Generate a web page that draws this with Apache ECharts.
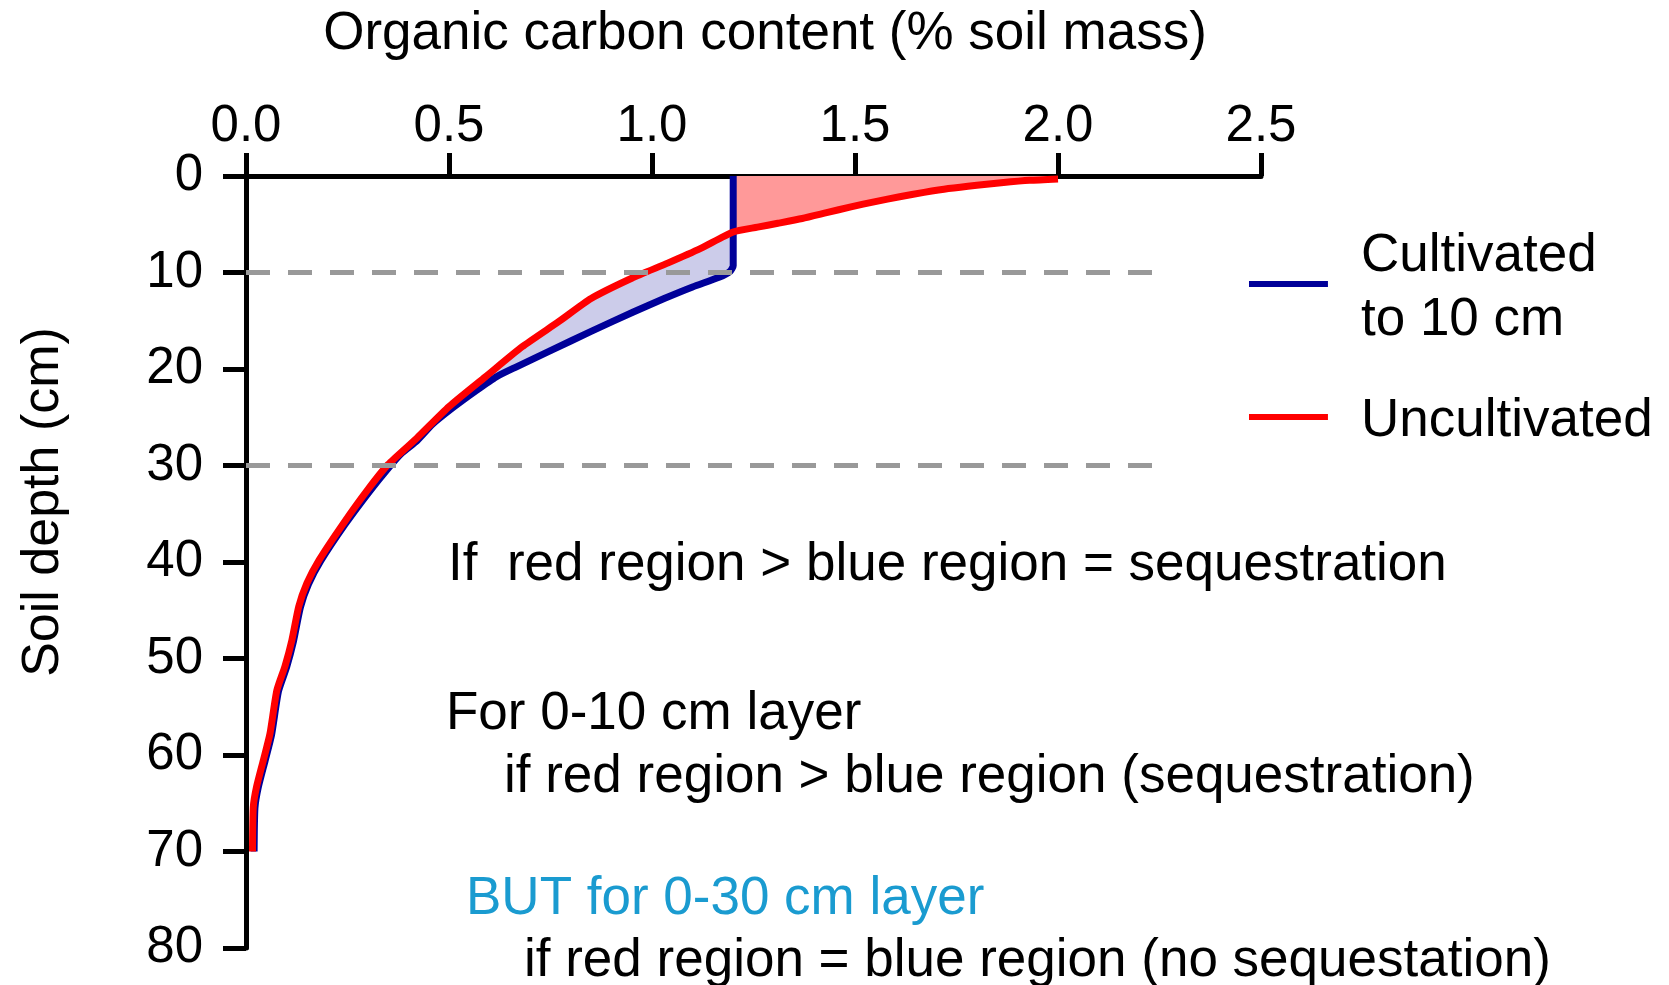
<!DOCTYPE html>
<html>
<head>
<meta charset="utf-8">
<title>Organic carbon content by soil depth</title>
<script src="https://cdn.jsdelivr.net/npm/echarts@6/dist/echarts.min.js"></script>
<style>
  html, body { margin: 0; padding: 0; background: #ffffff; }
  #chart { width: 1669px; height: 985px; }
</style>
</head>
<body>
<div id="chart"></div>
<script>
// Uncultivated soil: organic carbon (% soil mass) against depth (cm)
const uncultCarbon = [2.00, 1.93, 1.86, 1.80, 1.73, 1.67, 1.61, 1.55, 1.49, 1.43,
                      1.37, 1.31, 1.26, 1.20, 1.12, 1.04, 0.95, 0.85, 0.77, 0.68,
                      0.59, 0.50, 0.42, 0.35, 0.30, 0.24, 0.18, 0.15, 0.13, 0.113,
                      0.096, 0.076, 0.059, 0.043, 0.026, 0.018, 0.016];
const uncultDepth  = [0.3, 0.45, 0.7, 0.95, 1.3, 1.7, 2.15, 2.65, 3.2, 3.8,
                      4.4, 4.9, 5.3, 5.8, 7.5, 9.0, 10.6, 12.7, 15.1, 17.7,
                      20.8, 23.9, 27.2, 29.9, 32.5, 36.0, 39.8, 42.2, 44.6, 48.1,
                      50.8, 53.3, 57.8, 60.5, 63.3, 65.4, 70];

// Soil cultivated (mixed) to 10 cm
const cultCarbon = [1.20, 1.20, 1.192, 1.165, 1.10, 1.03, 0.954, 0.85, 0.75, 0.665,
                    0.617, 0.565, 0.51, 0.46, 0.422, 0.384, 0.354, 0.304, 0.244, 0.184,
                    0.154, 0.134, 0.117, 0.100, 0.080, 0.063, 0.047, 0.030, 0.022, 0.020];
const cultDepth  = [0, 9.3, 9.9, 10.5, 11.5, 12.7, 14.1, 16.1, 18.1, 19.8,
                    20.8, 22.3, 24.0, 25.7, 27.4, 28.7, 30.1, 32.7, 36.1, 39.9,
                    42.3, 44.7, 48.2, 50.9, 53.4, 57.9, 60.6, 63.4, 65.5, 70];

// Depth where the two profiles cross, and where they rejoin
const crossDepth = 5.8;
const mergeDepth = 27.4;

// Reference layers (cm) and how far their guide lines run (% C)
const layerDepths = [10, 30];
const guideExtent = 2.24;

// Axis ranges and ticks
const carbonMin = 0, carbonMax = 2.5, carbonStep = 0.5;
const depthMin = 0, depthMax = 80, depthStep = 10;

const seriesNames = ['Cultivated\nto 10 cm', 'Uncultivated'];

const notes = [
  { text: 'If  red region > blue region = sequestration', x: 448, y: 565, color: '#000000' },
  { text: 'For 0-10 cm layer', x: 446, y: 714, color: '#000000' },
  { text: 'if red region > blue region (sequestration)', x: 504, y: 777, color: '#000000' },
  { text: 'BUT for 0-30 cm layer', x: 466, y: 899, color: '#1a9bd0' },
  { text: 'if red region = blue region (no sequestation)', x: 524, y: 961, color: '#000000' }
];

const FONT = '"Liberation Sans", Arial, Helvetica, sans-serif';

const zip = (xs, ys) => xs.map((v, i) => [v, ys[i]]);
const uncultPts = zip(uncultCarbon, uncultDepth);
const cultPts = zip(cultCarbon, cultDepth);
const surfaceCarbon = cultCarbon[0];

// Polygon (data space) where uncultivated soil holds more carbon (near surface)
function redRegion() {
  const pts = [[surfaceCarbon, 0], [uncultCarbon[0], 0]];
  uncultPts.forEach(p => { if (p[1] <= crossDepth) pts.push(p); });
  pts.push([surfaceCarbon, crossDepth]);
  return pts;
}
// Polygon where the cultivated profile holds more carbon (below the crossing)
function blueRegion() {
  const pts = [[surfaceCarbon, crossDepth]];
  cultPts.forEach(p => { if (p[1] > crossDepth && p[1] <= mergeDepth) pts.push(p); });
  uncultPts.filter(p => p[1] >= crossDepth && p[1] <= mergeDepth).reverse().forEach(p => pts.push(p));
  return pts;
}
const regions = [
  { pts: redRegion(), color: '#ff9999' },
  { pts: blueRegion(), color: '#ccccea' }
];

// Legend swatch: a bar sitting a little above the centre of its box
const legendIcon = 'path://M0,0H79V6H0Z M0,14H0.01V14.01H0Z';

const chart = echarts.init(document.getElementById('chart'), null, { renderer: 'canvas' });

const option = {
  backgroundColor: '#ffffff',
  animation: false,
  textStyle: { fontFamily: FONT },
  grid: { left: 246, right: 408, top: 176, bottom: 37, containLabel: false },
  xAxis: {
    type: 'value',
    position: 'top',
    min: carbonMin, max: carbonMax, interval: carbonStep,
    name: 'Organic carbon content (% soil mass)',
    nameLocation: 'middle',
    nameGap: 115,
    nameTextStyle: { fontSize: 53, color: '#000', fontFamily: FONT, padding: [0, 0, 0, 23] },
    axisLine: { show: true, onZero: false, lineStyle: { color: '#000', width: 5 } },
    axisTick: { show: true, inside: false, length: 23, lineStyle: { color: '#000', width: 5 } },
    axisLabel: { fontSize: 51, color: '#000', fontFamily: FONT, margin: 24,
                 formatter: v => v.toFixed(1) },
    splitLine: { show: false }
  },
  yAxis: {
    type: 'value',
    inverse: true,
    min: depthMin, max: depthMax, interval: depthStep,
    name: 'Soil depth (cm)',
    nameLocation: 'middle',
    nameGap: 176,
    nameTextStyle: { fontSize: 52, color: '#000', fontFamily: FONT, padding: [0, 0, 0, 120] },
    axisLine: { show: true, onZero: false, lineStyle: { color: '#000', width: 5 } },
    axisTick: { show: true, inside: false, length: 23, lineStyle: { color: '#000', width: 5 } },
    axisLabel: { fontSize: 51, color: '#000', fontFamily: FONT, margin: 43, padding: [5, 0, 0, 0] },
    splitLine: { show: false }
  },
  legend: {
    data: seriesNames,
    orient: 'vertical',
    left: 1244,
    top: 219,
    icon: legendIcon,
    itemWidth: 79,
    itemHeight: 14,
    itemGap: 37,
    selectedMode: false,
    itemStyle: { borderWidth: 0 },
    textStyle: { fontSize: 53, lineHeight: 64, color: '#000', fontFamily: FONT, padding: [0, 0, 0, 28] }
  },
  series: [
    {
      name: 'regions',
      type: 'custom',
      coordinateSystem: 'cartesian2d',
      silent: true,
      z: 1,
      data: regions.map((r, i) => [r.pts[0][0], r.pts[0][1], i]),
      encode: { x: 0, y: 1 },
      renderItem: (params, api) => {
        const r = regions[api.value(2)];
        return {
          type: 'polygon',
          shape: { points: r.pts.map(p => api.coord(p)) },
          style: { fill: r.color, stroke: null }
        };
      }
    },
    {
      name: 'layers',
      type: 'line',
      data: [],
      z: 2,
      markLine: {
        silent: true,
        symbol: ['none', 'none'],
        label: { show: false },
        lineStyle: { color: '#999999', width: 5, type: [24, 18] },
        data: layerDepths.map(d => [{ coord: [carbonMin, d] }, { coord: [guideExtent, d] }])
      }
    },
    {
      name: seriesNames[0],
      type: 'line',
      data: cultPts,
      z: 3,
      symbol: 'none',
      smooth: 0.2,
      lineStyle: { color: '#000099', width: 7, join: 'round' },
      itemStyle: { color: '#000099' }
    },
    {
      name: seriesNames[1],
      type: 'line',
      data: uncultPts,
      z: 4,
      symbol: 'none',
      smooth: 0.2,
      lineStyle: { color: '#ff0000', width: 7, join: 'round' },
      itemStyle: { color: '#ff0000' }
    }
  ],
  graphic: notes.map(n => ({
    type: 'text',
    x: n.x,
    y: n.y,
    silent: true,
    style: { text: n.text, fill: n.color, fontSize: 53, fontFamily: FONT, verticalAlign: 'middle', align: 'left' }
  }))
};

chart.setOption(option);
</script>
</body>
</html>
